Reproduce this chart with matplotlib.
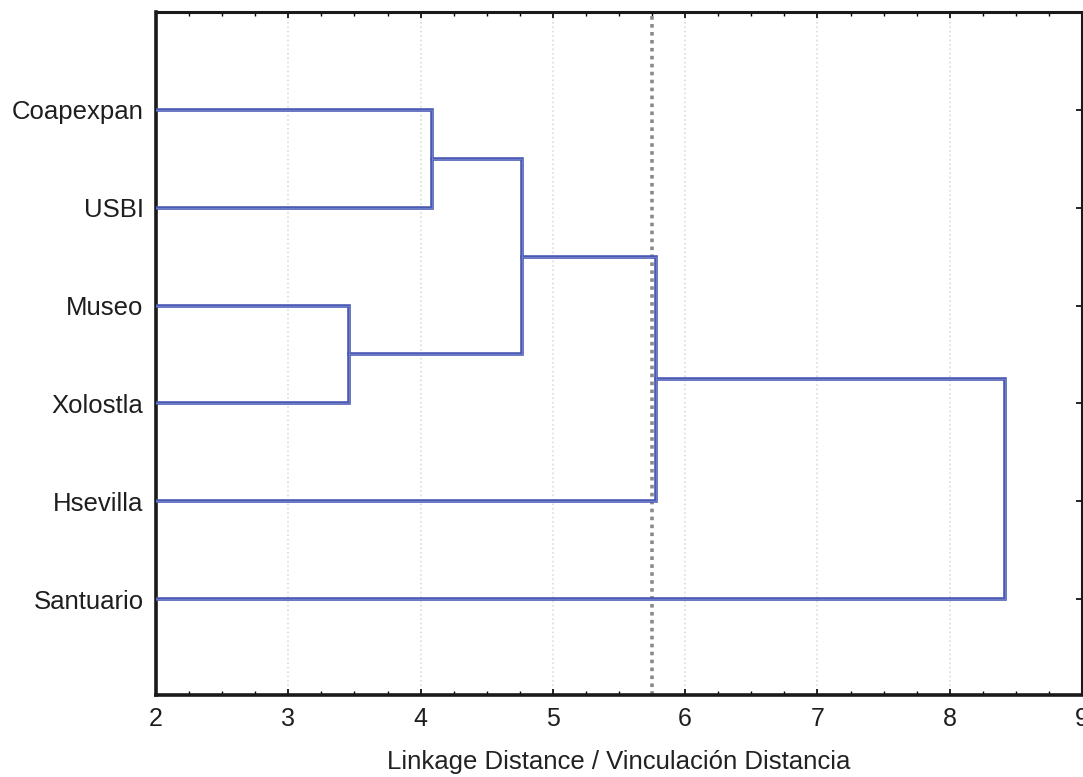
import matplotlib
matplotlib.use('Agg')
import matplotlib.pyplot as plt
import numpy as np

plt.rcParams['font.family'] = ['Liberation Sans', 'DejaVu Sans']

# leaves, top to bottom
labels = ['Coapexpan', 'USBI', 'Museo', 'Xolostla', 'Hsevilla', 'Santuario']
# merges: (left item, right item, linkage distance); items 0-5 are leaves, 6+ are clusters
merges = [(0, 1, 4.09),
          (2, 3, 3.46),
          (6, 7, 4.77),
          (8, 4, 5.78),
          (9, 5, 8.42)]
cut_dist = 5.75
x_min = 2.0

fig = plt.figure(figsize=(10.83, 7.77), dpi=100)
ax = fig.add_axes([156/1083, 1-695/777, (1082-156)/1083, (695-12)/777])

pos = {i: i + 1 for i in range(len(labels))}
height = {i: x_min for i in range(len(labels))}
blue = '#4a5ab4'
for k, (a, b, d) in enumerate(merges):
    ya, yb = pos[a], pos[b]
    xs = [height[a], d, d, height[b]]
    ys = [ya, ya, yb, yb]
    ax.plot(xs, ys, color=blue, lw=2.6, solid_joinstyle='miter', zorder=3)
    ax.plot(xs, ys, color='#7f8bd0', lw=0.5, zorder=4)
    nid = len(labels) + k
    pos[nid] = (ya + yb) / 2
    height[nid] = d

ax.axvline(cut_dist, color='#8a8a8a', ls=(0, (1, 1.2)), lw=2.6, zorder=2)

ax.set_xlim(2, 9)
ax.set_ylim(6.98, 0)
ax.set_xticks(np.arange(2, 10, 1))
ax.set_xticks(np.arange(2, 9.01, 0.25), minor=True)
ax.set_yticks(range(1, len(labels) + 1))
ax.set_yticklabels(labels, fontsize=18.5)
ax.grid(axis='x', which='major', color='#dcdcdc', ls=':', lw=1.2)
ax.tick_params(axis='both', which='both', direction='in', top=True, right=True,
               labelcolor='#1e1e1e')
ax.tick_params(axis='x', which='major', labelsize=18)
ax.tick_params(axis='both', which='major', length=4, width=1.2, pad=9)
ax.tick_params(axis='y', which='major', pad=9)
ax.tick_params(axis='x', which='minor', length=3, width=1)
ax.tick_params(axis='y', which='minor', left=False, right=False)

for s in ['left', 'bottom']:
    ax.spines[s].set_linewidth(2.6)
ax.spines['top'].set_linewidth(2.2)
ax.spines['right'].set_linewidth(1.5)
for s in ax.spines.values():
    s.set_color('#1a1a1a')

ax.set_xlabel('Linkage Distance / Vinculación Distancia', fontsize=18.5, labelpad=13, color='#222222')

fig.savefig('out.png', dpi=100)
